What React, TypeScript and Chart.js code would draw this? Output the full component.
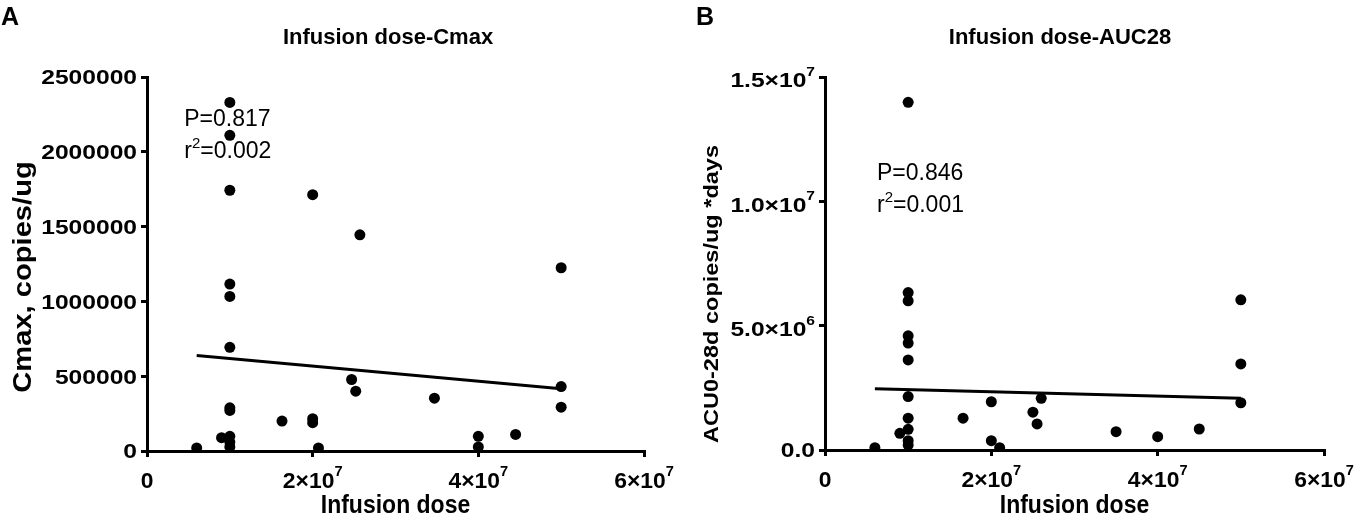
import { useEffect, useRef } from "react";
import { Chart, registerables } from "chart.js";

Chart.register(...registerables);

// Panel A: infusion dose vs Cmax
const cmaxDose = [
  6e6, 9e6,
  1e7, 1e7, 1e7, 1e7, 1e7, 1e7, 1e7, 1e7, 1e7, 1e7, 1e7,
  1.63e7, 2e7, 2e7, 2e7, 2.07e7, 2.47e7, 2.52e7, 2.57e7,
  3.47e7, 4e7, 4e7, 4.45e7, 5e7, 5e7, 5e7,
];
const cmaxValue = [
  20000, 89000,
  2330000, 2110000, 1743000, 1116000, 1033000, 693000, 289000, 271000, 98000, 60000, 27000,
  200000, 1713000, 216000, 189000, 20000, 478000, 400000, 1445000,
  353000, 98000, 27000, 111000, 1225000, 431000, 293000,
];
const cmaxFitDose = [6e6, 5e7];
const cmaxFitValue = [638000, 416000];
const cmaxTickLabels = ["0", "500000", "1000000", "1500000", "2000000", "2500000"];

// Panel B: infusion dose vs AUC 0-28d
const aucDose = [
  6e6, 9e6,
  1e7, 1e7, 1e7, 1e7, 1e7, 1e7, 1e7, 1e7, 1e7, 1e7, 1e7,
  1.66e7, 2e7, 2e7, 2.1e7, 2.5e7, 2.55e7, 2.6e7,
  3.5e7, 4e7, 4.5e7, 5e7, 5e7, 5e7,
];
const aucValue = [
  92000, 672000,
  13980000, 6330000, 6000000, 4590000, 4300000, 3620000, 2150000, 1280000, 833000, 374000, 200000,
  1280000, 1940000, 374000, 92000, 1520000, 1050000, 2080000,
  737000, 537000, 845000, 6040000, 3460000, 1900000,
];
const aucFitDose = [6e6, 5e7];
const aucFitValue = [2460000, 2080000];
const aucTickLabels = ["0.0", "5.0×10^6", "1.0×10^7", "1.5×10^7"];

// "^" splits mantissa and exponent (drawn as a superscript)
const doseTickLabels = ["0", "2×10^7", "4×10^7", "6×10^7"];

const SANS = "'Liberation Sans', Arial, sans-serif";

// draws "base^exp" with a raised exponent; y is the baseline
function drawSci(ctx: CanvasRenderingContext2D, label: string, x: number, y: number,
  align: "center" | "right", size: number, sx: number) {
  const [base, exp] = label.split("^");
  const es = Math.round(size * 0.65);
  ctx.font = `bold ${size}px ${SANS}`;
  const bw = ctx.measureText(base).width;
  let ew = 0;
  if (exp) {
    ctx.font = `bold ${es}px ${SANS}`;
    ew = ctx.measureText(exp).width;
  }
  const total = (bw + ew) * sx;
  const left = align === "center" ? x - total / 2 : x - total;
  ctx.save();
  ctx.translate(left, y);
  ctx.scale(sx, 1);
  ctx.textAlign = "left";
  ctx.textBaseline = "alphabetic";
  ctx.font = `bold ${size}px ${SANS}`;
  ctx.fillText(base, 0, 0);
  if (exp) {
    ctx.font = `bold ${es}px ${SANS}`;
    ctx.fillText(exp, bw, -size * 0.55);
  }
  ctx.restore();
}

const overlay = {
  id: "overlay",
  afterDraw(chart: any, _args: any, o: any) {
    const { ctx, chartArea, scales } = chart;
    ctx.save();
    ctx.fillStyle = "#000";

    ctx.font = `bold 25px ${SANS}`;
    ctx.textAlign = "left";
    ctx.textBaseline = "alphabetic";
    ctx.fillText(o.letter, o.letterX, 25);

    ctx.font = `bold 22px ${SANS}`;
    ctx.textAlign = "center";
    ctx.textBaseline = "middle";
    ctx.fillText(o.title, o.titleX, 38);

    // tick labels
    scales.x.ticks.forEach((t: any, i: number) => {
      drawSci(ctx, doseTickLabels[i], scales.x.getPixelForValue(t.value), chartArea.bottom + 37, "center", 22, 1.04);
    });
    const ySize = 20.5;
    scales.y.ticks.forEach((t: any, i: number) => {
      const lab: string = o.yLabels[i];
      const shift = lab.includes("^") ? ySize * 0.5 : ySize * 0.36;
      drawSci(ctx, lab, chartArea.left - 10, scales.y.getPixelForValue(t.value) + shift, "right", ySize, 1.2);
    });

    // axis titles
    ctx.textAlign = "center";
    ctx.textBaseline = "middle";
    ctx.save();
    ctx.translate((chartArea.left + chartArea.right) / 2, 506);
    ctx.scale(1, 1.12);
    ctx.font = `bold 23px ${SANS}`;
    ctx.fillText("Infusion dose", 0, 0);
    ctx.restore();

    ctx.save();
    ctx.translate(o.yTitleX, o.yTitleY);
    ctx.rotate(-Math.PI / 2);
    ctx.scale(1.12, 1);
    ctx.font = `bold ${o.yTitleSize}px ${SANS}`;
    ctx.fillText(o.yTitle, 0, 0);
    ctx.restore();

    // P value and r squared
    const px = scales.x.getPixelForValue(o.annX);
    const py = scales.y.getPixelForValue(o.pY);
    const ry = scales.y.getPixelForValue(o.rY);
    ctx.textAlign = "left";
    ctx.textBaseline = "alphabetic";
    ctx.font = `23px ${SANS}`;
    ctx.fillText(o.pText, px, py);
    ctx.fillText("r", px, ry);
    const rw = ctx.measureText("r").width;
    ctx.font = `15px ${SANS}`;
    ctx.fillText("2", px + rw, ry - 10);
    const sw = ctx.measureText("2").width;
    ctx.font = `23px ${SANS}`;
    ctx.fillText(o.rText, px + rw + sw, ry);
    ctx.restore();
  },
};

const axisLook = {
  grid: {
    drawOnChartArea: false,
    drawTicks: true,
    tickLength: 6,
    tickWidth: 3,
    tickColor: "#000",
    color: "#000",
    lineWidth: 3,
  },
  border: { display: true, width: 3, color: "#000" },
};

interface PanelProps {
  dose: number[];
  values: number[];
  fitDose: number[];
  fitValues: number[];
  yMax: number;
  yStep: number;
  width: number;
  yWidth: number;
  xHeight: number;
  padRight: number;
  overlayOpts: any;
}

function ScatterPanel(p: PanelProps) {
  const canvasRef = useRef<HTMLCanvasElement | null>(null);

  useEffect(() => {
    if (!canvasRef.current) return;
    const chart = new Chart(canvasRef.current, {
      type: "scatter",
      data: {
        datasets: [
          {
            data: p.dose.map((d, i) => ({ x: d, y: p.values[i] })),
            backgroundColor: "#000",
            borderWidth: 0,
            pointRadius: 5.5,
          },
          {
            data: p.fitDose.map((d, i) => ({ x: d, y: p.fitValues[i] })),
            showLine: true,
            borderColor: "#000",
            borderWidth: 3,
            pointRadius: 0,
          },
        ],
      },
      options: {
        responsive: false,
        animation: false,
        events: [],
        layout: { padding: { top: 77, left: 0, right: p.padRight, bottom: 0 } },
        plugins: {
          legend: { display: false },
          tooltip: { enabled: false },
          overlay: p.overlayOpts,
        } as any,
        scales: {
          x: {
            type: "linear",
            min: 0,
            max: 6e7,
            ticks: { stepSize: 2e7, display: false },
            ...axisLook,
            afterFit: (s: any) => {
              s.height = p.xHeight;
              s.paddingLeft = 0;
              s.paddingRight = 0;
            },
          },
          y: {
            type: "linear",
            min: 0,
            max: p.yMax,
            ticks: { stepSize: p.yStep, display: false },
            ...axisLook,
            afterFit: (s: any) => {
              s.width = p.yWidth;
              s.paddingTop = 0;
              s.paddingBottom = 0;
            },
          },
        },
      },
      plugins: [overlay],
    });
    return () => chart.destroy();
  }, []);

  return <canvas ref={canvasRef} width={p.width} height={521} />;
}

export default function App() {
  return (
    <div style={{ position: "absolute", left: 0, top: 0, width: 1357, height: 521, background: "#fff", overflow: "hidden" }}>
      <div style={{ position: "absolute", left: 0, top: 0 }}>
        <ScatterPanel
          dose={cmaxDose}
          values={cmaxValue}
          fitDose={cmaxFitDose}
          fitValues={cmaxFitValue}
          yMax={2500000}
          yStep={500000}
          width={720}
          yWidth={147}
          xHeight={70}
          padRight={76}
          overlayOpts={{
            letter: "A",
            letterX: 1,
            title: "Infusion dose-Cmax",
            titleX: 388,
            yLabels: cmaxTickLabels,
            yTitle: "Cmax, copies/ug",
            yTitleX: 24,
            yTitleY: 277,
            yTitleSize: 26,
            annX: 4.5e6,
            pY: 2170000,
            rY: 1960000,
            pText: "P=0.817",
            rText: "=0.002",
          }}
        />
      </div>
      <div style={{ position: "absolute", left: 680, top: 0 }}>
        <ScatterPanel
          dose={aucDose}
          values={aucValue}
          fitDose={aucFitDose}
          fitValues={aucFitValue}
          yMax={15000000}
          yStep={5000000}
          width={677}
          yWidth={145}
          xHeight={71}
          padRight={33}
          overlayOpts={{
            letter: "B",
            letterX: 16,
            title: "Infusion dose-AUC28",
            titleX: 380,
            yLabels: aucTickLabels,
            yTitle: "ACU0-28d copies/ug *days",
            yTitleX: 32,
            yTitleY: 294,
            yTitleSize: 21,
            annX: 6.25e6,
            pY: 10870000,
            rY: 9590000,
            pText: "P=0.846",
            rText: "=0.001",
          }}
        />
      </div>
    </div>
  );
}
